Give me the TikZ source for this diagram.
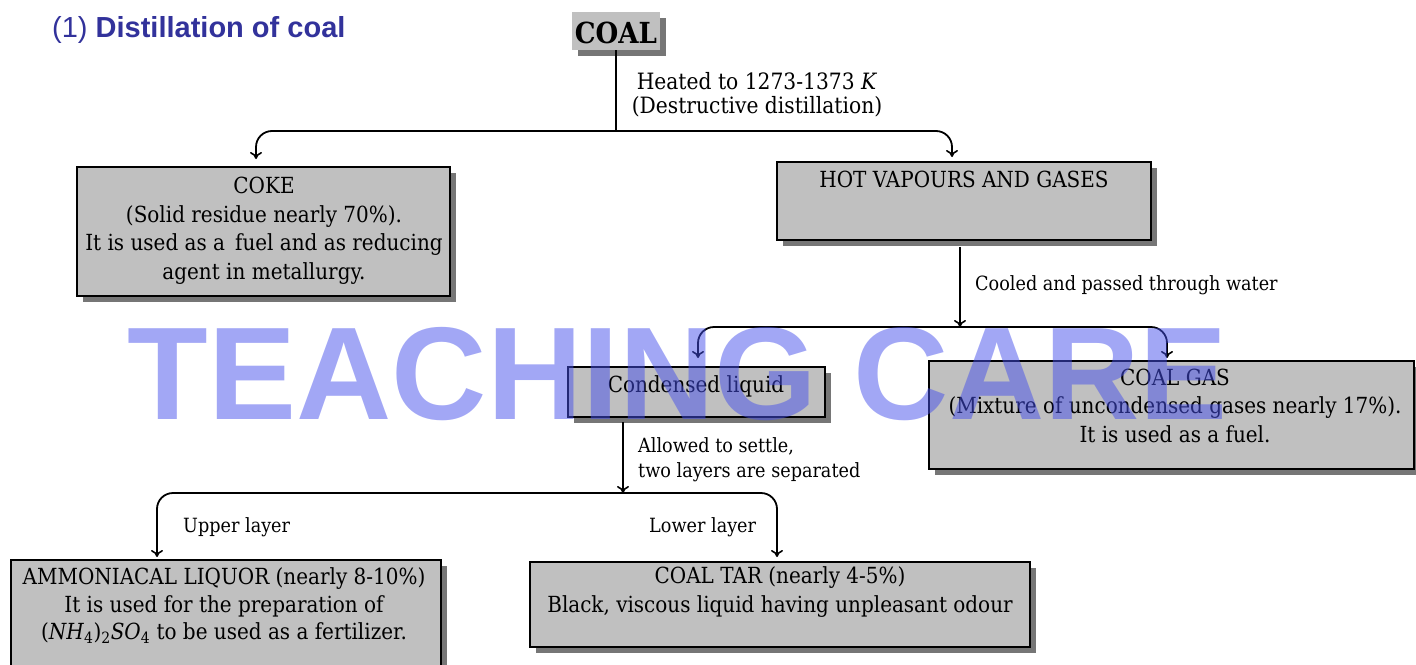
\documentclass[tikz,border=0pt]{standalone}
\usepackage{fontspec}
\setmainfont{DejaVu Serif}[FakeStretch=0.9]
\newfontfamily\sansf{Liberation Sans}
\usetikzlibrary{shadows,arrows.meta}
\definecolor{boxgray}{RGB}{192,192,192}
\definecolor{shadowgray}{RGB}{118,118,118}
\definecolor{titleblue}{RGB}{50,50,155}
\definecolor{wmblue}{RGB}{70,80,235}
\begin{document}
\begin{tikzpicture}[x=1pt,y=-1pt,
  boxst/.style={draw=black, line width=1.7pt, fill=boxgray, inner sep=0pt, outer sep=0pt, anchor=north west,
    general shadow={fill=shadowgray, shadow xshift=6pt, shadow yshift=-6pt}},
  plainbox/.style={fill=boxgray, inner sep=0pt, outer sep=0pt, anchor=north west,
    general shadow={fill=shadowgray, shadow xshift=6pt, shadow yshift=-6pt}},
  txt/.style={anchor=base, inner sep=0pt, font=\fontsize{22.2}{26}\selectfont},
  lbl/.style={anchor=base west, inner sep=0pt, font=\fontsize{19.6}{23}\selectfont},
  lblc/.style={anchor=base, inner sep=0pt, font=\fontsize{22.5}{26}\selectfont},
  conn/.style={line width=1.8pt, rounded corners=16pt},
  arr/.style={conn, -{To[length=7pt,width=12pt,line width=1.6pt]}}
]
\useasboundingbox (0,0) rectangle (1416,664);

% title
\node[anchor=base west, inner sep=0pt, text=titleblue, font=\sansf\fontsize{29}{34}\selectfont] (title) at (52,37) {(1) \textbf{Distillation of coal}};

% boxes
\node[plainbox, minimum width=88pt, minimum height=38pt] (coal) at (572,12) {};
\node[anchor=base, inner sep=0pt, font=\bfseries\fontsize{29}{34}\selectfont] (coalt) at (616,43) {COAL};

\node[boxst, minimum width=373pt, minimum height=129pt] (coke) at (77,167) {};
\node[txt] (coke1) at (264,193) {COKE};
\node[txt] (coke2) at (264,222) {(Solid residue nearly 70\%).};
\node[txt] (coke3) at (264,250) {It is used as a\, fuel and as reducing};
\node[txt] (coke4) at (264,279) {agent in metallurgy.};

\node[boxst, minimum width=374pt, minimum height=78pt] (hot) at (777,162) {};
\node[txt] (hot1) at (964,187) {HOT VAPOURS AND GASES};

\node[boxst, minimum width=257pt, minimum height=50pt] (cond) at (568,367) {};
\node[txt] (cond1) at (696,392) {Condensed liquid};

\node[boxst, minimum width=485pt, minimum height=108pt] (gas) at (929,361) {};
\node[txt] (gas1) at (1175,385) {COAL GAS};
\node[txt] (gas2) at (1175,413) {(Mixture of uncondensed gases nearly 17\%).};
\node[txt] (gas3) at (1175,442) {It is used as a fuel.};

\node[boxst, minimum width=430pt, minimum height=140pt] (amm) at (11,560) {};
\node[txt] (amm1) at (224,584) {AMMONIACAL LIQUOR (nearly 8-10\%)};
\node[txt] (amm2) at (224,612) {It is used for the preparation of};
\node[txt] (amm3) at (224,639) {(\textit{NH}\textsubscript{4})\textsubscript{2}\textit{SO}\textsubscript{4} to be used as a fertilizer.};

\node[boxst, minimum width=500pt, minimum height=85pt] (tar) at (530,562) {};
\node[txt] (tar1) at (780,583) {COAL TAR (nearly 4-5\%)};
\node[txt] (tar2) at (780,612) {Black, viscous liquid having unpleasant odour};

% labels
\node[lblc] (heat1) at (757,89) {Heated to 1273-1373 \textit{K}};
\node[lblc] (heat2) at (757,113) {(Destructive distillation)};
\node[lbl] (cool) at (975,290) {Cooled and passed through water};
\node[lbl] (set1) at (638,452) {Allowed to settle,};
\node[lbl] (set2) at (638,477) {two layers are separated};
\node[lbl] (up) at (183,532) {Upper layer};
\node[lbl] (low) at (649,532) {Lower layer};

% connectors
\coordinate (j1) at (616,131);
\coordinate (a1) at (256,159);
\coordinate (a2) at (952,157);
\draw[conn] (coal.south) -- (j1);
\draw[arr] (j1) -| (a1);
\draw[arr] (j1) -| (a2);

\coordinate (h0) at (960,247);
\coordinate (j2) at (960,327);
\coordinate (a3) at (698,358);
\coordinate (a4) at (1167,358);
\draw[arr] (h0) -- (j2);
\draw[arr] (j2) -| (a3);
\draw[arr] (j2) -| (a4);

\coordinate (c0) at (623,422);
\coordinate (j3) at (623,493);
\coordinate (a5) at (157,557);
\coordinate (a6) at (777,557);
\draw[arr] (c0) -- (j3);
\draw[arr] (j3) -| (a5);
\draw[arr] (j3) -| (a6);

% watermark
\node[anchor=base, inner sep=0pt, text=wmblue, text opacity=0.5, font=\sansf\bfseries\fontsize{132}{132}\selectfont] (wm) at (678,419) {TEACHING CARE};
\end{tikzpicture}
\end{document}
